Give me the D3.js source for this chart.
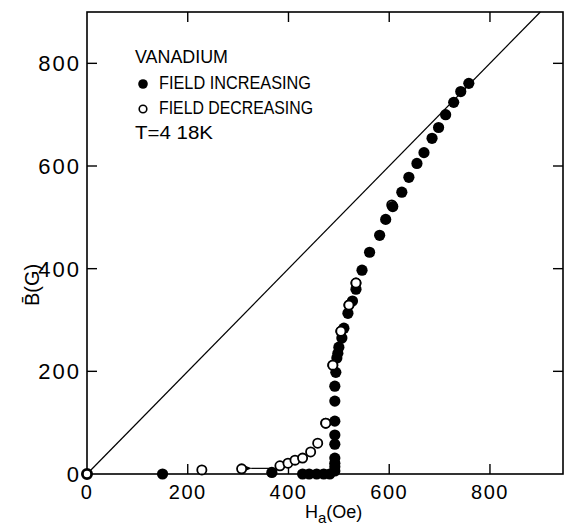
<!DOCTYPE html>
<html>
<head>
<meta charset="utf-8">
<script src="https://cdn.jsdelivr.net/npm/d3@7"></script>
<style>
  body { margin: 0; background: #fff; }
  svg text { font-family: "Liberation Sans", Arial, sans-serif; fill: #000; }
</style>
</head>
<body>
<div id="chart"></div>
<script>
// field increasing (filled) : applied field H (Oe) and mean induction B (G)
const incH = [150, 367, 428, 441, 456, 470, 482, 492, 492, 492, 492, 492, 492, 492, 492, 492,
  494, 496, 498, 500, 506, 510, 518, 527, 534, 546, 561, 581, 593, 607, 625, 639, 655, 669,
  685, 698, 712, 728, 742, 758];
const incB = [0, 3, 0, 0, 0, 0, 0, 6, 14, 21, 31, 58, 76, 103, 142, 171,
  198, 226, 235, 247, 265, 284, 313, 337, 360, 397, 432, 465, 496, 521, 549, 578, 605, 626,
  654, 675, 700, 724, 745, 761];

// field decreasing (open)
const decH = [0, 228, 307, 383, 399, 413, 428, 444, 458, 474, 488, 504, 520, 534, 605];
const decB = [0, 8, 10, 16, 21, 27, 31, 43, 60, 99, 212, 278, 329, 372, 524];

const xTicks = [0, 200, 400, 600, 800];
const yTicks = [0, 200, 400, 600, 800];
const legendLines = ["VANADIUM", "FIELD INCREASING", "FIELD DECREASING", "T=4 18K"];
// little arrow near the bottom (from, to) in data units
const arrowH = [365, 326];
const arrowB = [11, 11];

const width = 564, height = 531;
const margin = { left: 87, right: 1, top: 12, bottom: 57 };

const svg = d3.select("#chart").append("svg")
  .attr("width", width)
  .attr("height", height);

const x = d3.scaleLinear().domain([0, 945]).range([margin.left, width - margin.right]);
const y = d3.scaleLinear().domain([0, 900]).range([height - margin.bottom, margin.top]);

const x0 = x.range()[0], x1 = x.range()[1];
const y0 = y.range()[0], y1 = y.range()[1];

// frame
svg.append("rect")
  .attr("x", x0).attr("y", y1)
  .attr("width", x1 - x0).attr("height", y0 - y1)
  .attr("fill", "none")
  .attr("stroke", "#000")
  .attr("stroke-width", 1.6);

// inward ticks on all four sides
const tickLen = 10;
const tickStyle = sel => sel.attr("stroke", "#000").attr("stroke-width", 1.4);

svg.append("g").selectAll("line").data(xTicks.filter(d => d > 0)).join("line")
  .attr("x1", d => x(d)).attr("x2", d => x(d))
  .attr("y1", y0).attr("y2", y0 - tickLen).call(tickStyle);
svg.append("g").selectAll("line").data(xTicks.filter(d => d > 0)).join("line")
  .attr("x1", d => x(d)).attr("x2", d => x(d))
  .attr("y1", y1).attr("y2", y1 + tickLen).call(tickStyle);
svg.append("g").selectAll("line").data(yTicks.filter(d => d > 0)).join("line")
  .attr("y1", d => y(d)).attr("y2", d => y(d))
  .attr("x1", x0).attr("x2", x0 + tickLen).call(tickStyle);
svg.append("g").selectAll("line").data(yTicks.filter(d => d > 0)).join("line")
  .attr("y1", d => y(d)).attr("y2", d => y(d))
  .attr("x1", x1).attr("x2", x1 - tickLen).call(tickStyle);

// tick labels
svg.append("g").selectAll("text").data(xTicks).join("text")
  .attr("x", d => x(d))
  .attr("y", y0 + 25)
  .attr("text-anchor", "middle")
  .attr("font-size", 20)
  .attr("letter-spacing", 1.5)
  .text(d => d);

svg.append("g").selectAll("text").data(yTicks).join("text")
  .attr("x", x0 - 6)
  .attr("y", d => y(d) + 8)
  .attr("text-anchor", "end")
  .attr("font-size", 22)
  .attr("letter-spacing", 2)
  .text(d => d);

// axis titles
const xl = svg.append("text")
  .attr("x", 305)
  .attr("y", 518)
  .attr("font-size", 18);
xl.append("tspan").text("H");
xl.append("tspan").attr("dy", 5).attr("font-size", 15).text("a");
xl.append("tspan").attr("dy", -5).text("(Oe)");

svg.append("text")
  .attr("transform", "translate(39,285) rotate(-90)")
  .attr("text-anchor", "middle")
  .attr("font-size", 20)
  .text("B\u0304(G)");

// B = H reference line
svg.append("line")
  .attr("x1", x(0)).attr("y1", y(0))
  .attr("x2", x(900)).attr("y2", y(900))
  .attr("stroke", "#000")
  .attr("stroke-width", 1.2);

// arrow annotation
svg.append("defs").append("marker")
  .attr("id", "head")
  .attr("viewBox", "0 0 10 10")
  .attr("refX", 1).attr("refY", 5)
  .attr("markerWidth", 6).attr("markerHeight", 5)
  .attr("orient", "auto")
  .append("path").attr("d", "M10,1 L0,5 L10,9 Z").attr("fill", "#000");

svg.append("line")
  .attr("x1", x(arrowH[0])).attr("y1", y(arrowB[0]))
  .attr("x2", x(arrowH[1])).attr("y2", y(arrowB[1]))
  .attr("stroke", "#000")
  .attr("stroke-width", 1.2)
  .attr("marker-end", "url(#head)");

// data points
const inc = incH.map((h, i) => ({ h: h, b: incB[i] }));
const dec = decH.map((h, i) => ({ h: h, b: decB[i] }));

svg.append("g").selectAll("circle").data(dec).join("circle")
  .attr("cx", d => x(d.h))
  .attr("cy", d => y(d.b))
  .attr("r", 4.6)
  .attr("fill", "#fff")
  .attr("stroke", "#000")
  .attr("stroke-width", d => d.h === 0 ? 2.8 : 1.8);

svg.append("g").selectAll("circle").data(inc).join("circle")
  .attr("cx", d => x(d.h))
  .attr("cy", d => y(d.b))
  .attr("r", 5.6)
  .attr("fill", "#000");

// open points that sit on top of the filled ones in the original
svg.append("g").selectAll("circle").data(dec.filter(d => d.h >= 474 && d.h < 600)).join("circle")
  .attr("cx", d => x(d.h))
  .attr("cy", d => y(d.b))
  .attr("r", 4.6)
  .attr("fill", "#fff")
  .attr("stroke", "#000")
  .attr("stroke-width", 1.8);

// legend
const lg = svg.append("g").attr("font-size", 18);
lg.append("text").attr("x", 135).attr("y", 63)
  .attr("textLength", 93).attr("lengthAdjust", "spacingAndGlyphs").text(legendLines[0]);
lg.append("circle").attr("cx", 143).attr("cy", 84).attr("r", 4.8).attr("fill", "#000");
lg.append("text").attr("x", 159).attr("y", 89)
  .attr("textLength", 152).attr("lengthAdjust", "spacingAndGlyphs").text(legendLines[1]);
lg.append("circle").attr("cx", 143).attr("cy", 109).attr("r", 3.8)
  .attr("fill", "#fff").attr("stroke", "#000").attr("stroke-width", 1.6);
lg.append("text").attr("x", 159).attr("y", 114)
  .attr("textLength", 154).attr("lengthAdjust", "spacingAndGlyphs").text(legendLines[2]);
lg.append("text").attr("x", 135).attr("y", 139)
  .attr("textLength", 78).attr("lengthAdjust", "spacingAndGlyphs").text(legendLines[3]);
</script>
</body>
</html>
